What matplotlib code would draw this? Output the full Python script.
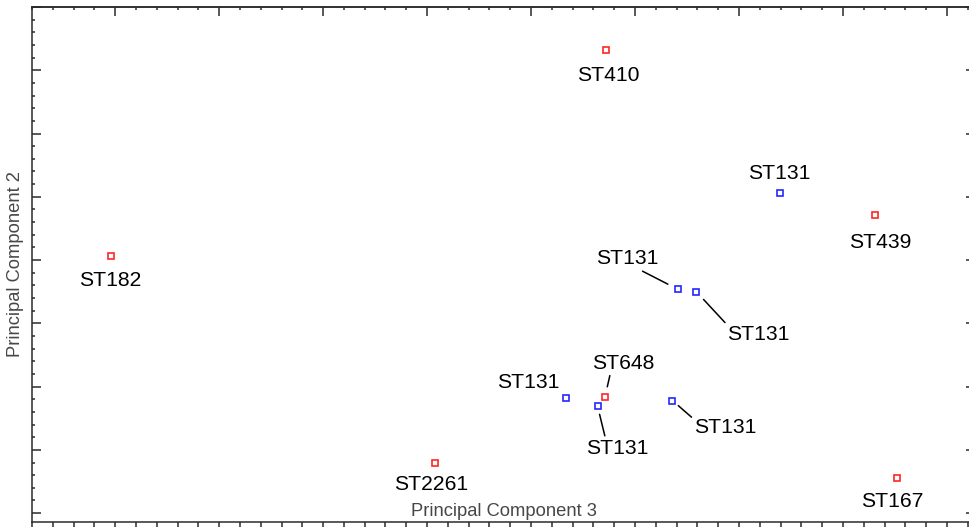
import matplotlib
matplotlib.use("Agg")
import matplotlib.pyplot as plt
from matplotlib.ticker import MultipleLocator, AutoMinorLocator, NullFormatter

plt.rcParams['font.family'] = ['Liberation Sans', 'DejaVu Sans']

# PCA scores (PC3 on x, PC2 on y)
labels = ["ST410", "ST131", "ST439", "ST182", "ST131", "ST131",
          "ST648", "ST131", "ST131", "ST131", "ST2261", "ST167"]
pc3 = [4.72, 6.39, 7.31, -0.04, 5.41, 5.59, 4.71, 4.34, 4.64, 5.36, 3.08, 7.52]
pc2 = [7.32, 5.06, 4.71, 4.06, 3.54, 3.50, 1.83, 1.82, 1.69, 1.78, 0.79, 0.56]

# label text centres
label_x = [4.74, 6.39, 7.36, -0.05, 4.93, 6.19, 4.89, 3.97, 4.83, 5.87, 3.04, 7.47]
label_y = [6.95, 5.40, 4.31, 3.71, 4.05, 2.85, 2.40, 2.10, 1.06, 1.39, 0.48, 0.22]

# leader lines: index -> (relpos on text box, gap at marker in pt)
leaders = {4: ((0.65, 0.0), 7.9), 5: ((0.0, 1.0), 7.6), 6: ((0.29, 0.0), 7.8),
           8: ((0.31, 1.0), 6.0), 9: ((0.0, 0.9), 5.6)}

RED, BLUE = "#ff2626", "#2626ff"
SPINE = "#2b2b2b"

fig = plt.figure(figsize=(9.69, 5.27), dpi=100)
W, H = 969, 527
ax = fig.add_axes([32 / W, 5 / H, (975 - 32) / W, (522 - 7) / H])

for i, lab in enumerate(labels):
    c = BLUE if lab == "ST131" else RED
    ax.plot(pc3[i], pc2[i], "s", ms=4.6, mfc="white", mec=c, mew=1.2, zorder=3)
    kw = dict(ha="center", va="center_baseline", fontsize=15.2, color="black",
              annotation_clip=False)
    if i in leaders:
        rp, gap = leaders[i]
        kw["arrowprops"] = dict(arrowstyle="-", color="black", lw=1.1,
                                relpos=rp, shrinkA=0, shrinkB=gap)
    ax.annotate(lab, xy=(pc3[i], pc2[i]), xytext=(label_x[i], label_y[i]),
                textcoords="data", **kw)

ax.set_xlim(-0.8, 8.27)
ax.set_ylim(-0.14, 8.0)

for sp in ax.spines.values():
    sp.set_color(SPINE)
    sp.set_linewidth(1.1)

ax.xaxis.set_major_locator(MultipleLocator(1))
ax.xaxis.set_minor_locator(AutoMinorLocator(5))
ax.yaxis.set_major_locator(MultipleLocator(1))
ax.yaxis.set_minor_locator(AutoMinorLocator(5))
ax.xaxis.set_major_formatter(NullFormatter())
ax.yaxis.set_major_formatter(NullFormatter())

ax.tick_params(axis="x", which="both", direction="out", bottom=True, top=False,
               color=SPINE, width=1.1)
ax.tick_params(axis="x", which="major", length=6.5)
ax.tick_params(axis="x", which="minor", length=3.5)
ax.tick_params(axis="y", which="both", direction="in", left=True, right=True,
               color=SPINE, width=1.1)
ax.tick_params(axis="y", which="major", length=6.5)
ax.tick_params(axis="y", which="minor", length=2.3)

# top axis has its ticks pointing inward
top = ax.secondary_xaxis("top")
top.xaxis.set_major_locator(MultipleLocator(1))
top.xaxis.set_minor_locator(AutoMinorLocator(5))
top.xaxis.set_major_formatter(NullFormatter())
top.spines["top"].set_color(SPINE)
top.spines["top"].set_linewidth(1.1)
top.tick_params(which="both", direction="in", color=SPINE, width=1.1)
top.tick_params(which="major", length=6.5)
top.tick_params(which="minor", length=2.3)

ax.set_xlabel("Principal Component 3", fontsize=13.2, color="#474747", va="center")
ax.xaxis.set_label_coords(0.5, (522 - 512) / 515)
ax.set_ylabel("Principal Component 2", fontsize=13.2, color="#474747", va="center")
ax.yaxis.set_label_coords((16 - 32) / 943, 0.5)

fig.savefig("out.png", dpi=100)
